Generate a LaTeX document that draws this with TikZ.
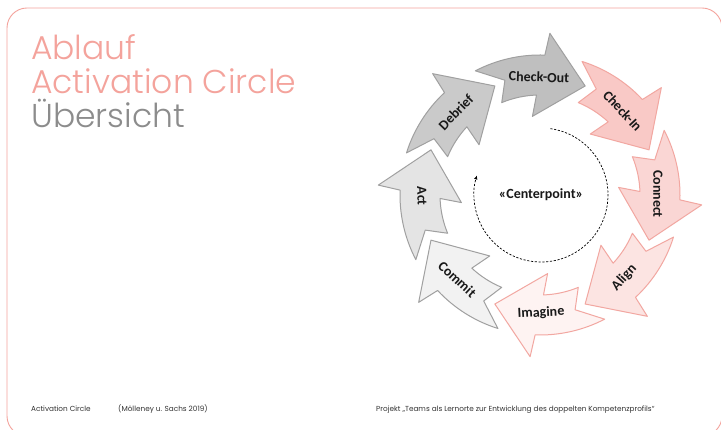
\documentclass[tikz,border=0pt]{standalone}
\usepackage{fontspec}
\setmainfont{Carlito}
\newfontfamily\titlefont{Poppins Light}
\newfontfamily\footfont{Poppins}
\usetikzlibrary{arrows.meta,calc}
\definecolor{salmon}{HTML}{F4A39C}
\definecolor{titlegray}{HTML}{8C8C8C}
\definecolor{pinkborder}{HTML}{F2A7A1}
\definecolor{grayborder}{HTML}{A0A0A0}
\definecolor{fCheckOut}{HTML}{BFBFBF}
\definecolor{fDebrief}{HTML}{CACACA}
\definecolor{fAct}{HTML}{E4E4E4}
\definecolor{fCommit}{HTML}{F2F2F2}
\definecolor{fImagine}{HTML}{FEF3F2}
\definecolor{fAlign}{HTML}{FCE4E2}
\definecolor{fConnect}{HTML}{FAD6D4}
\definecolor{fCheckIn}{HTML}{F9C9C6}
\tikzset{
  ringarrowstyle/.style={line width=1pt, line join=round},
  arrowlabel/.style={font=\fontsize{14}{16}\selectfont\bfseries, text=black!90, inner sep=0pt},
  titletext/.style={font=\titlefont\fontsize{33}{36}\selectfont, anchor=base west, inner sep=0pt},
  foottext/.style={font=\footfont\fontsize{7.3}{9}\selectfont, text=black!80, anchor=base west, inner sep=0pt},
}
\newcommand\ringarrow[6]{%
  \pgfmathsetmacro\rgA{#1+25.5}%
  \pgfmathsetmacro\rgB{#1-4}%
  \pgfmathsetmacro\rgC{#1-5.5}%
  \pgfmathsetmacro\rgD{#1-24.5}%
  \pgfmathsetmacro\rgE{#1+3.5}%
  \pgfmathsetmacro\rgF{#1+20.5}%
  \pgfmathsetmacro\rgG{#1+15}%
  \pgfmathsetmacro\rgH{#1-1.5}%
  \filldraw[ringarrowstyle, fill=#2, draw=#3] (\rgA:140) arc[start angle=\rgA, end angle=\rgB, radius=140]
    -- (\rgC:162) -- (\rgD:118) -- (\rgE:79) -- (#1:100)
    arc[start angle=#1, end angle=\rgF, radius=100] -- (\rgG:120) -- cycle;
  \node[arrowlabel, rotate=#6] (#4) at (\rgH:118) {#5};
}
\begin{document}
\begin{tikzpicture}[x=1pt,y=1pt]
\useasboundingbox (0,0) rectangle (721,430);
\clip (0,0) rectangle (721,430);
\fill[white] (0,0) rectangle (721,430);
% frame
\draw[salmon, line width=0.9pt, rounded corners=20pt] (7,-6) rectangle (722,422);
% title
\node[titletext, text=salmon] (t1) at (31,370) {Ablauf};
\node[titletext, text=salmon] (t2) at (31,336) {Activation Circle};
\node[titletext, text=titlegray] (t3) at (31,302) {Übersicht};
% ring
\begin{scope}[shift={(540,235)}]
  \ringarrow{92}{fCheckOut}{grayborder}{checkout}{Check-Out}{-2}
  \ringarrow{47}{fCheckIn}{pinkborder}{checkin}{Check-In}{-47}
  \ringarrow{2}{fConnect}{pinkborder}{connect}{Connect}{-90}
  \ringarrow{-43}{fAlign}{pinkborder}{align}{Align}{47}
  \ringarrow{-88}{fImagine}{pinkborder}{imagine}{Imagine}{3}
  \ringarrow{-133}{fCommit}{grayborder}{commit}{Commit}{-43}
  \ringarrow{182}{fAct}{grayborder}{act}{Act}{-88}
  \ringarrow{137}{fDebrief}{grayborder}{debrief}{Debrief}{46}
\end{scope}
% center
\node[arrowlabel] (center) at (541,235) {«Centerpoint»};
\coordinate (cc) at (541,235);
\draw[black, line width=0.7pt, dash pattern=on 2.2pt off 1.6pt, -{Latex[length=4pt,width=3.5pt]}]
  ($(cc)+(82:67)$) arc[start angle=82, end angle=-197, radius=67];
% footer
\node[foottext] (f1) at (31,18.5) {Activation Circle};
\node[foottext] (f2) at (118,18.5) {(Mölleney u. Sachs 2019)};
\node[foottext] (f3) at (376,18.5) {Projekt „Teams als Lernorte zur Entwicklung des doppelten Kompetenzprofils“};
\end{tikzpicture}
\end{document}
